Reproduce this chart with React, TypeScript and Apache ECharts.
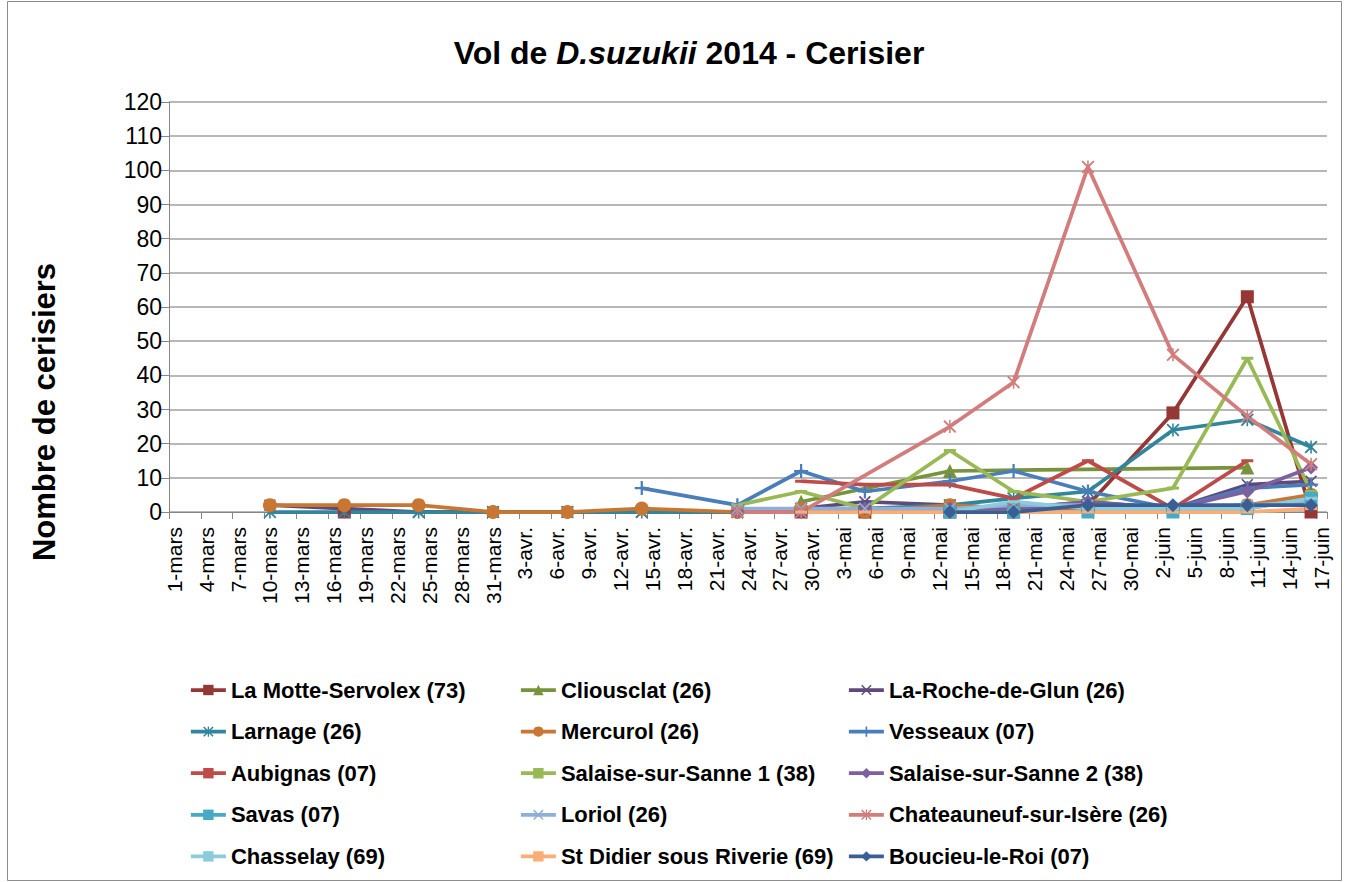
import React, { useEffect, useRef } from "react";
import * as echarts from "echarts";

const FONT = "'Liberation Sans', Arial, sans-serif";

// x-axis: every day from 1-mars to 17-juin, labels every 3 days
const monthNames = ["mars", "avr.", "mai", "juin"];
const monthLengths = [31, 30, 31, 17];
const categories: string[] = [];
monthNames.forEach((m, i) => {
  for (let d = 1; d <= monthLengths[i]; d++) categories.push(`${d}-${m}`);
});

// sampling dates
const sampleDates = [
  "10-mars", "17-mars", "24-mars", "31-mars", "7-avr.", "14-avr.", "23-avr.", "29-avr.",
  "5-mai", "13-mai", "19-mai", "26-mai", "3-juin", "10-juin", "16-juin",
];

const N = null;
const motte = [N, 0, N, N, N, N, N, 0, 0, 0, 0, 2, 29, 63, 0];
const clionsclat = [N, N, N, N, N, N, N, 3, N, 12, N, N, N, 13, N];
const laRoche = [2, 1, 0, 0, 0, 0, 0, 1, 3, 2, 1, 3, 1, 8, 9];
const larnage = [0, 0, 0, 0, 0, 0, 0, 1, 1, 2, 4, 6, 24, 27, 19];
const mercurol = [2, 2, 2, 0, 0, 1, 0, 1, 0, 2, 1, 1, 1, 2, 5];
const vesseaux = [N, N, N, N, N, 7, 2, 12, 6, 9, 12, 6, 1, 7, 8];
const aubignas = [N, N, N, N, N, N, N, 9, 8, 8, 4, 15, 1, 15, N];
const salaise1 = [N, N, N, N, N, N, 2, 6, 1, 18, 6, 3, 7, 45, 6];
const salaise2 = [N, N, N, N, N, N, 0, 0, 1, 1, 1, 3, 1, 6, 13];
const savas = [N, N, N, N, N, N, N, N, N, 0, 0, 0, 0, 1, 4];
const loriol = [N, N, N, N, N, N, 1, 1, 1, 1, 2, 2, 1, 2, 3];
const chateauneuf = [N, N, N, N, N, N, 0, 0, N, 25, 38, 101, 46, 28, 14];
const chasselay = [N, N, N, N, N, N, N, N, N, 0, 3, 1, 1, 1, 4];
const stDidier = [N, N, N, N, N, N, N, 0, 0, 0, 0, 0, 0, 0, 1];
const boucieu = [N, N, N, N, N, N, N, N, N, 0, 0, 2, 2, 2, 2];

const PLUS = "path://M4.2,0H5.8V4.2H10V5.8H5.8V10H4.2V5.8H0V4.2H4.2Z";
const XMARK = "path://M0,1L1,0L5,4L9,0L10,1L6,5L10,9L9,10L5,6L1,10L0,9L4,5Z";
const STAR = XMARK + "M4.4,0H5.6V10H4.4Z";

type Def = { name: string; values: (number | null)[]; color: string; symbol: string; size: any };
const defs: Def[] = [
  { name: "La Motte-Servolex (73)", values: motte, color: "#953735", symbol: "rect", size: 13 },
  { name: "Cliousclat (26)", values: clionsclat, color: "#77933C", symbol: "triangle", size: 14 },
  { name: "La-Roche-de-Glun (26)", values: laRoche, color: "#604A7B", symbol: XMARK, size: 12 },
  { name: "Larnage (26)", values: larnage, color: "#31859C", symbol: STAR, size: 13 },
  { name: "Mercurol (26)", values: mercurol, color: "#C87632", symbol: "circle", size: 14 },
  { name: "Vesseaux (07)", values: vesseaux, color: "#4A7EBB", symbol: PLUS, size: 14 },
  { name: "Aubignas (07)", values: aubignas, color: "#BE4B48", symbol: "rect", size: [12, 3] },
  { name: "Salaise-sur-Sanne 1 (38)", values: salaise1, color: "#98B954", symbol: "rect", size: [12, 3] },
  { name: "Salaise-sur-Sanne 2 (38)", values: salaise2, color: "#7D60A0", symbol: "diamond", size: 14 },
  { name: "Savas (07)", values: savas, color: "#46AAC5", symbol: "rect", size: 13 },
  { name: "Loriol (26)", values: loriol, color: "#8EAFD7", symbol: XMARK, size: 12 },
  { name: "Chateauneuf-sur-Isère (26)", values: chateauneuf, color: "#D27D7B", symbol: STAR, size: 13 },
  { name: "Chasselay (69)", values: chasselay, color: "#8CCBDC", symbol: "rect", size: [12, 3] },
  { name: "St Didier sous Riverie (69)", values: stDidier, color: "#F9AE78", symbol: "rect", size: [12, 3] },
  { name: "Boucieu-le-Roi (07)", values: boucieu, color: "#3B5F94", symbol: "diamond", size: 14 },
];

const legendCols = [
  [0, 3, 6, 9, 12],
  [1, 4, 7, 10, 13],
  [2, 5, 8, 11, 14],
];
const legendLeft = [184, 514, 842];

export default function App() {
  const ref = useRef<HTMLDivElement>(null);
  useEffect(() => {
    if (!ref.current) return;
    const chart = echarts.init(ref.current, null, { renderer: "svg" });
    const series = defs.map((d) => ({
      name: d.name,
      type: "line",
      data: d.values
        .map((v, i) => (v === null ? null : [sampleDates[i], v]))
        .filter((p) => p !== null),
      symbol: d.symbol,
      symbolSize: d.size,
      showAllSymbol: true,
      lineStyle: { width: 3.75, color: d.color },
      itemStyle: { color: d.color },
      emphasis: { disabled: true },
    }));
    chart.setOption({
      animation: false,
      textStyle: { fontFamily: FONT },
      title: {
        text: "{a|Vol de }{b|D.suzukii}{a| 2014 - Cerisier}",
        left: 684,
        top: 32,
        textAlign: "center",
        textStyle: {
          rich: {
            a: { fontSize: 32, fontWeight: "bold", color: "#000", fontFamily: FONT },
            b: { fontSize: 32, fontWeight: "bold", fontStyle: "italic", color: "#000", fontFamily: FONT },
          },
        },
      },
      legend: legendCols.map((col, ci) => ({
        orient: "vertical",
        left: legendLeft[ci],
        top: 674,
        itemGap: 19.6,
        itemWidth: 35,
        itemHeight: 13,
        data: col.map((i) => defs[i].name),
        selectedMode: false,
        lineStyle: { width: 3.75 },
        textStyle: { fontSize: 22, fontWeight: "bold", color: "#000", fontFamily: FONT },
      })),
      grid: { left: 169, top: 102, width: 1158, height: 410, containLabel: false },
      xAxis: {
        type: "category",
        data: categories,
        boundaryGap: true,
        axisLine: { show: true, lineStyle: { color: "#868686", width: 1 } },
        axisTick: { show: true, interval: 2, length: 7, lineStyle: { color: "#868686" } },
        axisLabel: {
          interval: 2,
          rotate: 90,
          fontSize: 21,
          color: "#000",
          margin: 15,
          fontFamily: FONT,
        },
        splitLine: { show: false },
      },
      yAxis: {
        type: "value",
        min: 0,
        max: 120,
        interval: 10,
        axisLine: { show: true, lineStyle: { color: "#868686", width: 1 } },
        axisTick: { show: true, length: 8, lineStyle: { color: "#868686" } },
        axisLabel: { fontSize: 23, color: "#000", margin: 7, fontFamily: FONT },
        splitLine: { show: true, lineStyle: { color: "#A0A0A0", width: 1.5 } },
      },
      graphic: [
        {
          type: "rect",
          silent: true,
          shape: { x: 7.5, y: 1.5, width: 1334, height: 879 },
          style: { fill: "none", stroke: "#8C8C8C", lineWidth: 1 },
        },
        {
          type: "text",
          x: 44,
          y: 412,
          rotation: Math.PI / 2,
          style: {
            text: "Nombre de cerisiers",
            font: `bold 31px ${FONT}`,
            fill: "#000",
            align: "center",
            verticalAlign: "middle",
          },
        },
      ],
      series,
    });
    return () => chart.dispose();
  }, []);
  return (
    <div
      ref={ref}
      style={{ position: "absolute", left: 0, top: 0, width: 1349, height: 882, background: "#fff" }}
    />
  );
}
